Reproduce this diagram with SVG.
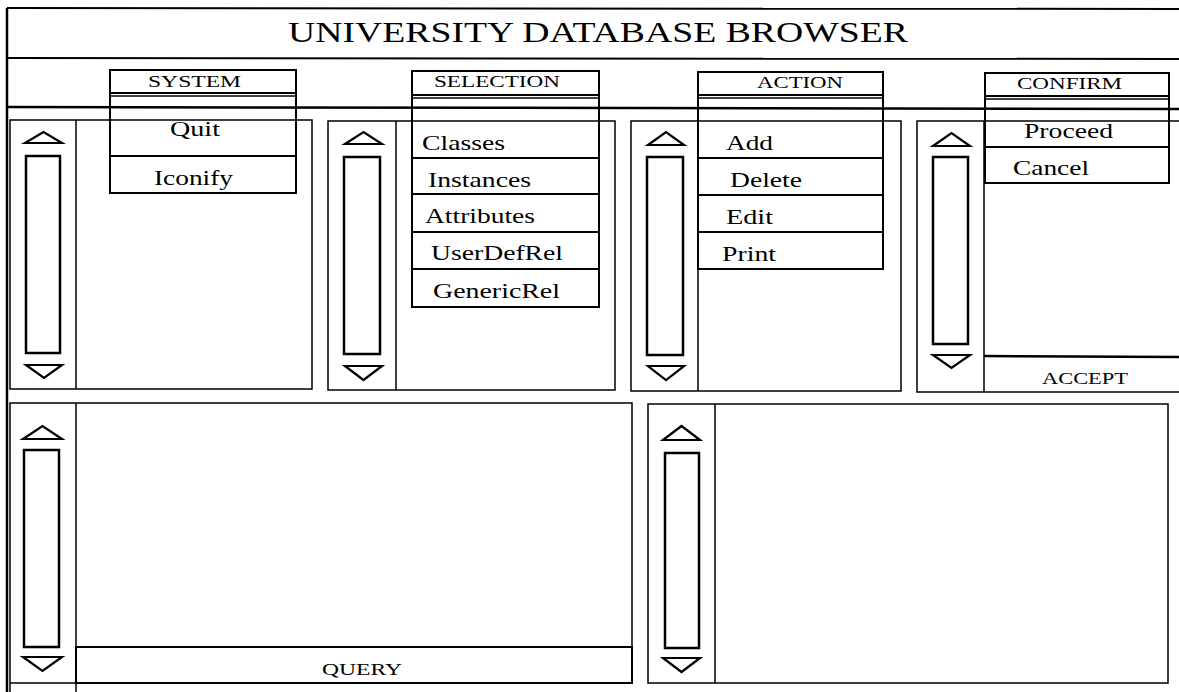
<svg xmlns="http://www.w3.org/2000/svg" width="1179" height="692" viewBox="0 0 1179 692">
  <style>
    .ln { stroke: #000; stroke-width: 2; fill: none; }
    .pn { stroke: #000; stroke-width: 1.5; fill: none; }
    .th { stroke: #000; stroke-width: 2.5; fill: none; }
    .ar { stroke: #000; stroke-width: 2.2; fill: none; stroke-linejoin: miter; }
    text { font-family: "Liberation Serif", "Times New Roman", serif; fill: #000; }
    .ttl { font-size: 30px; }
    .hdr { font-size: 17px; }
    .itm { font-size: 21px; }
  </style>
  <rect width="1179" height="692" fill="#fff"/>

  <!-- window frame, title band and menu bar -->
  <g id="frame">
    <line class="th" x1="7" y1="8" x2="7" y2="692"/>
    <line class="ln" x1="7" y1="8" x2="1179" y2="9"/>
    <line class="ln" x1="7" y1="58" x2="1179" y2="59"/>
    <line class="th" x1="7" y1="107" x2="1179" y2="109"/>
    <text class="ttl" x="288" y="42" textLength="620" lengthAdjust="spacingAndGlyphs">UNIVERSITY DATABASE BROWSER</text>
  </g>

  <!-- upper row of list panels, each with a scroll column -->
  <g id="panel-system">
    <rect class="pn" x="10" y="120" width="302" height="269"/>
    <line class="pn" x1="76" y1="120" x2="76" y2="389"/>
    <polygon class="ar" points="25,143 43.5,132 62,143"/>
    <rect class="th" x="26" y="156" width="34" height="197"/>
    <polygon class="ar" points="26,365 62,365 44,378"/>
  </g>
  <g id="panel-selection">
    <rect class="pn" x="328" y="121" width="287" height="269"/>
    <line class="pn" x1="396" y1="121" x2="396" y2="390"/>
    <polygon class="ar" points="345,144 363.5,132 382,144"/>
    <rect class="th" x="344" y="157" width="36" height="197"/>
    <polygon class="ar" points="345,366 382,366 363.5,380"/>
  </g>
  <g id="panel-action">
    <rect class="pn" x="631" y="121" width="270" height="270"/>
    <line class="pn" x1="698" y1="121" x2="698" y2="391"/>
    <polygon class="ar" points="648,145 666,132 684,145"/>
    <rect class="th" x="647" y="157" width="36" height="198"/>
    <polygon class="ar" points="648,366 684,366 666,380"/>
  </g>
  <g id="panel-confirm">
    <path class="pn" d="M1179,121 H917 V392 H1179"/>
    <line class="pn" x1="984" y1="121" x2="984" y2="392"/>
    <polygon class="ar" points="933,146 951.5,133 970,146"/>
    <rect class="th" x="933" y="157" width="35" height="187"/>
    <polygon class="ar" points="933,355 970,355 951.5,368"/>
  </g>
  <g id="accept-button">
    <line class="th" x1="984" y1="356" x2="1179" y2="357"/>
    <text class="hdr" x="1042" y="384" textLength="86" lengthAdjust="spacingAndGlyphs">ACCEPT</text>
  </g>

  <!-- lower row: query panel and result panel -->
  <g id="panel-query">
    <path class="pn" d="M10,692 V403 H632 V683 H10"/>
    <line class="pn" x1="76" y1="403" x2="76" y2="692"/>
    <polygon class="ar" points="23,439 42.5,426 62,439"/>
    <rect class="th" x="24" y="450" width="35" height="197"/>
    <polygon class="ar" points="23,657 62,657 42.5,671"/>
  </g>
  <g id="query-button">
    <rect class="ln" x="76" y="647" width="556" height="36"/>
    <text class="hdr" x="322" y="675" textLength="80" lengthAdjust="spacingAndGlyphs">QUERY</text>
  </g>
  <g id="panel-result">
    <rect class="pn" x="648" y="404" width="520" height="279"/>
    <line class="pn" x1="715" y1="404" x2="715" y2="683"/>
    <polygon class="ar" points="663,440 681.5,426 700,440"/>
    <rect class="th" x="665" y="453" width="34" height="195"/>
    <polygon class="ar" points="663,658 700,658 681.5,672"/>
  </g>

  <!-- pull-down menus, drawn open over the menu bar -->
  <g id="menu-system">
    <rect class="ln" x="110" y="70" width="186" height="123"/>
    <line class="ln" x1="110" y1="93" x2="296" y2="93"/>
    <line class="pn" x1="110" y1="96" x2="296" y2="96"/>
    <line class="ln" x1="110" y1="156" x2="296" y2="156"/>
    <text class="hdr" x="148" y="87" textLength="93" lengthAdjust="spacingAndGlyphs">SYSTEM</text>
    <text class="itm" x="170" y="136" textLength="50" lengthAdjust="spacingAndGlyphs">Quit</text>
    <text class="itm" x="154" y="185" textLength="79" lengthAdjust="spacingAndGlyphs">Iconify</text>
  </g>
  <g id="menu-selection">
    <rect class="ln" x="412" y="71" width="187" height="236"/>
    <line class="ln" x1="412" y1="95" x2="599" y2="95"/>
    <line class="pn" x1="412" y1="98" x2="599" y2="98"/>
    <line class="ln" x1="412" y1="158" x2="599" y2="158"/>
    <line class="ln" x1="412" y1="194" x2="599" y2="194"/>
    <line class="ln" x1="412" y1="232" x2="599" y2="232"/>
    <line class="ln" x1="412" y1="269" x2="599" y2="269"/>
    <text class="hdr" x="434" y="87" textLength="126" lengthAdjust="spacingAndGlyphs">SELECTION</text>
    <text class="itm" x="422" y="150" textLength="83" lengthAdjust="spacingAndGlyphs">Classes</text>
    <text class="itm" x="428" y="187" textLength="103" lengthAdjust="spacingAndGlyphs">Instances</text>
    <text class="itm" x="425" y="223" textLength="110" lengthAdjust="spacingAndGlyphs">Attributes</text>
    <text class="itm" x="431" y="260" textLength="132" lengthAdjust="spacingAndGlyphs">UserDefRel</text>
    <text class="itm" x="433" y="298" textLength="127" lengthAdjust="spacingAndGlyphs">GenericRel</text>
  </g>
  <g id="menu-action">
    <rect class="ln" x="698" y="72" width="185" height="197"/>
    <line class="ln" x1="698" y1="95" x2="883" y2="95"/>
    <line class="pn" x1="698" y1="98" x2="883" y2="98"/>
    <line class="ln" x1="698" y1="158" x2="883" y2="158"/>
    <line class="ln" x1="698" y1="195" x2="883" y2="195"/>
    <line class="ln" x1="698" y1="232" x2="883" y2="232"/>
    <text class="hdr" x="757" y="88" textLength="86" lengthAdjust="spacingAndGlyphs">ACTION</text>
    <text class="itm" x="726" y="150" textLength="47" lengthAdjust="spacingAndGlyphs">Add</text>
    <text class="itm" x="730" y="187" textLength="72" lengthAdjust="spacingAndGlyphs">Delete</text>
    <text class="itm" x="726" y="224" textLength="47" lengthAdjust="spacingAndGlyphs">Edit</text>
    <text class="itm" x="722" y="261" textLength="54" lengthAdjust="spacingAndGlyphs">Print</text>
  </g>
  <g id="menu-confirm">
    <rect class="ln" x="985" y="73" width="184" height="110"/>
    <line class="ln" x1="985" y1="96" x2="1169" y2="96"/>
    <line class="pn" x1="985" y1="99" x2="1169" y2="99"/>
    <line class="ln" x1="985" y1="147" x2="1169" y2="147"/>
    <text class="hdr" x="1017" y="89" textLength="105" lengthAdjust="spacingAndGlyphs">CONFIRM</text>
    <text class="itm" x="1024" y="138" textLength="89" lengthAdjust="spacingAndGlyphs">Proceed</text>
    <text class="itm" x="1013" y="175" textLength="76" lengthAdjust="spacingAndGlyphs">Cancel</text>
  </g>
</svg>
